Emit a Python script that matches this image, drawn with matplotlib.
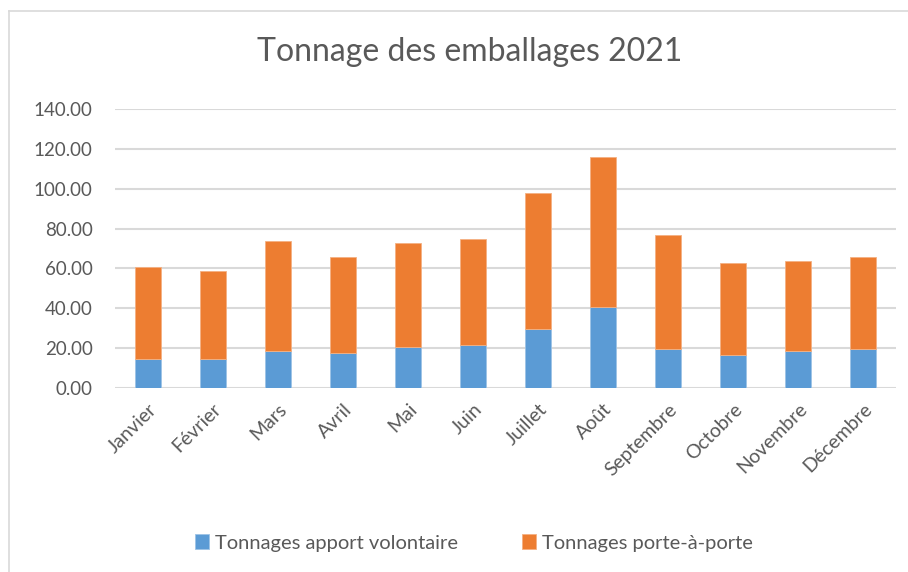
import matplotlib
matplotlib.use("Agg")
import matplotlib.pyplot as plt
from matplotlib.lines import Line2D
import numpy as np

months = ["Janvier", "Février", "Mars", "Avril", "Mai", "Juin", "Juillet",
          "Août", "Septembre", "Octobre", "Novembre", "Décembre"]
apport_volontaire = [14.7, 14.7, 18.7, 17.7, 20.7, 21.7, 29.8, 40.7, 19.8, 16.8, 18.8, 19.8]
porte_a_porte = [46.0, 44.2, 55.3, 48.1, 52.1, 53.1, 68.0, 75.3, 57.0, 46.0, 45.0, 46.0]
yticks = [0, 20, 40, 60, 80, 100, 120, 140]

plt.rcParams['font.family'] = ['Lato', 'DejaVu Sans']
text_color = "#595959"

W, H = 908, 572
fig = plt.figure(figsize=(W / 100, H / 100), dpi=100)
ax = fig.add_axes([115 / W, 1 - 388 / H, (896 - 115) / W, (388 - 109) / H])

x = np.arange(len(months))
ax.bar(x, apport_volontaire, width=0.4, color="#5B9BD5", edgecolor="#9DC3E6",
       linewidth=0.6, label="Tonnages apport volontaire", zorder=3)
ax.bar(x, porte_a_porte, width=0.4, bottom=apport_volontaire, color="#ED7D31",
       edgecolor="#F4B183", linewidth=0.6, label="Tonnages porte-à-porte", zorder=3)

ax.set_xlim(-0.5, len(months) - 0.5)
ax.set_ylim(0, 140)
ax.set_yticks(yticks)
ax.set_yticklabels([f"{v:.2f}" for v in yticks], fontsize=13.5, color=text_color)
ax.set_xticks(x)
ax.set_xticklabels(months, rotation=45, ha="right", rotation_mode="anchor",
                   fontsize=14, color=text_color)
ax.tick_params(axis="both", length=0)
ax.tick_params(axis="y", pad=16)
ax.tick_params(axis="x", pad=9)
for s in ax.spines.values():
    s.set_visible(False)
ax.grid(axis="y", color="#D9D9D9", linewidth=1.5, zorder=0)
ax.set_axisbelow(True)

fig.text(470 / W, 1 - 52 / H, "Tonnage des emballages 2021", ha="center", va="center",
         fontsize=23, color=text_color)

leg = fig.legend(loc="center", bbox_to_anchor=(474 / W, 1 - 543 / H), ncol=2,
                 frameon=False, fontsize=14.5, handlelength=0.7, handleheight=0.7,
                 handletextpad=0.3, columnspacing=3.2)
for t in leg.get_texts():
    t.set_color(text_color)

fig.add_artist(Line2D([9 / W, 9 / W], [0, 1 - 11 / H], transform=fig.transFigure,
                      color="#D9D9D9", linewidth=1.2))
fig.add_artist(Line2D([9 / W, 1], [1 - 11 / H, 1 - 11 / H], transform=fig.transFigure,
                      color="#D9D9D9", linewidth=1.2))

fig.savefig("out.png", dpi=100)
